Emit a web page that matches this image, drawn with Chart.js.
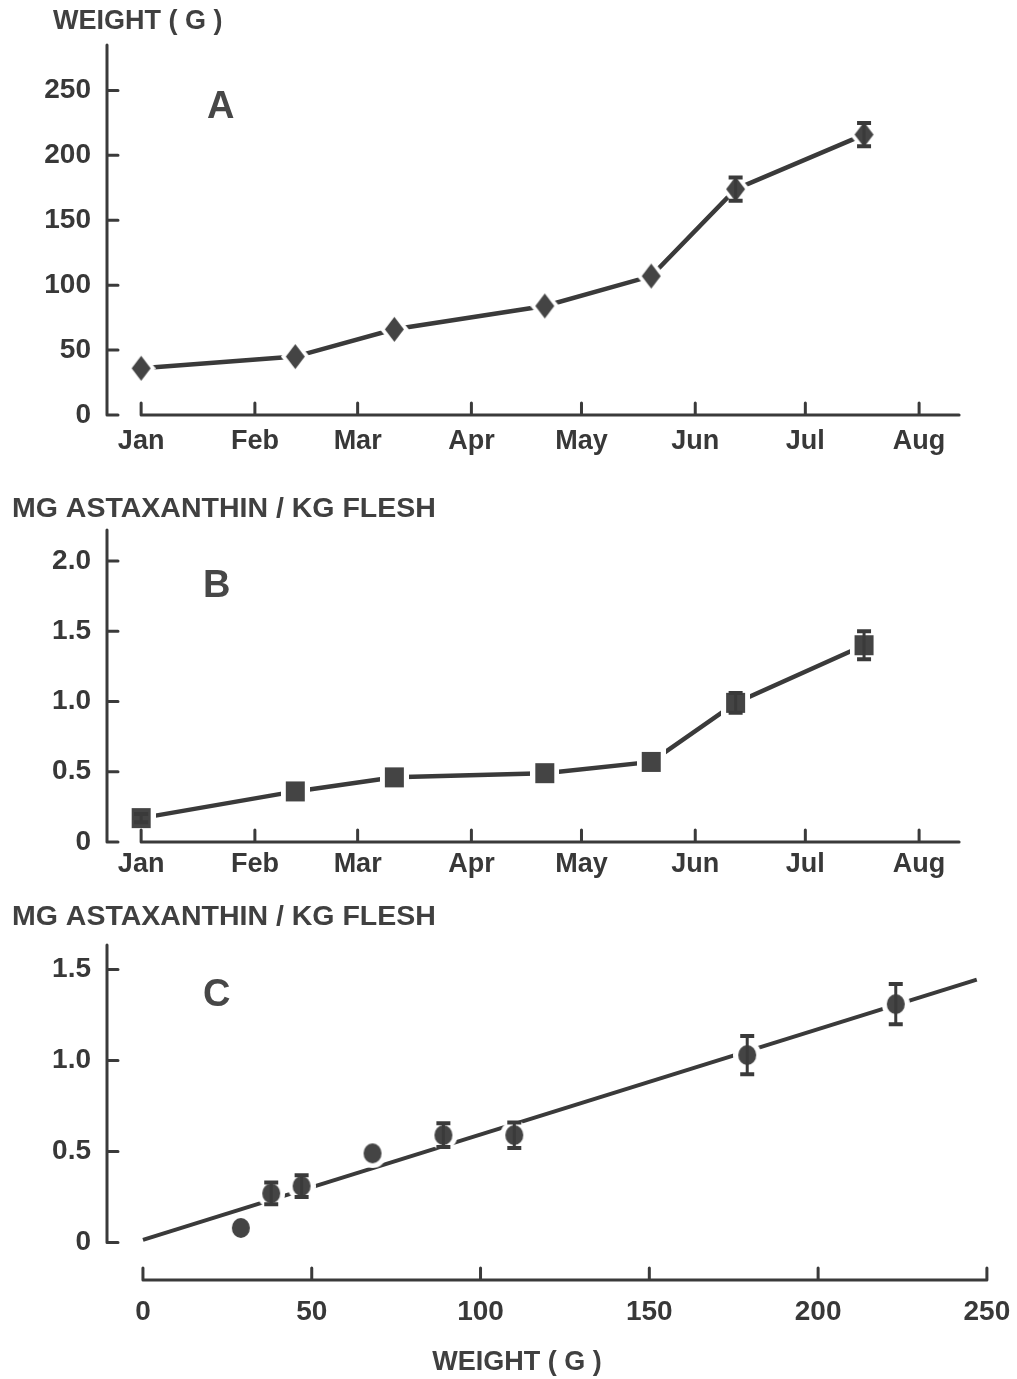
<!DOCTYPE html>
<html>
<head>
<meta charset="utf-8">
<script src="https://cdn.jsdelivr.net/npm/chart.js@4.4.1/dist/chart.umd.min.js"></script>
<style>
  html, body { margin: 0; padding: 0; background: #fff; }
  body { width: 1017px; height: 1379px; position: relative; overflow: hidden; }
  canvas { position: absolute; left: 0; }
</style>
</head>
<body>
<canvas id="chartA" width="1017" height="470" style="top:0px"></canvas>
<canvas id="chartB" width="1017" height="420" style="top:480px"></canvas>
<canvas id="chartC" width="1032" height="479" style="top:900px"></canvas>
<script>
// month ticks, as day of year the month starts
const monthDays = [0, 31, 59, 90, 120, 151, 181, 212];
const monthNames = ['Jan', 'Feb', 'Mar', 'Apr', 'May', 'Jun', 'Jul', 'Aug'];

// sampling dates (day of year), same for A and B
const sampleDays = [0, 42, 69, 110, 139, 162, 197];

// A - weight (g)
const weightG = [36, 45, 66, 84, 107, 174, 216];
const weightErr = [0, 0, 0, 0, 0, 9, 9];
const weightTicks = [0, 50, 100, 150, 200, 250];

// B - mg astaxanthin / kg flesh by date
const astaByDate = [0.17, 0.36, 0.46, 0.49, 0.57, 0.99, 1.40];
const astaByDateErr = [0.03, 0, 0, 0, 0, 0.07, 0.1];
const astaTicksB = [0, 0.5, 1.0, 1.5, 2.0];
const astaLabelsB = ['0', '0.5', '1.0', '1.5', '2.0'];

// C - mg astaxanthin / kg flesh by weight
const fishWeight = [29, 38, 47, 68, 89, 110, 179, 223];
const astaByWeight = [0.08, 0.27, 0.31, 0.49, 0.59, 0.59, 1.03, 1.31];
const astaByWeightErr = [0, 0.06, 0.06, 0, 0.065, 0.07, 0.105, 0.11];
const fitWeight = [0, 247];
const fitAsta = [0.015, 1.445];
const astaTicksC = [0, 0.5, 1.0, 1.5];
const astaLabelsC = ['0', '0.5', '1.0', '1.5'];
const weightTicksC = [0, 50, 100, 150, 200, 250];

const ink = '#3a3a3a';
const FONT = "'Liberation Sans', Arial, sans-serif";
const tickFont = { family: FONT, size: 28, weight: 'bold' };

// marker glyph with a white halo so the line stops short of it
function makeMarker(shape, w, h) {
  const halo = 5;
  const c = document.createElement('canvas');
  c.width = w + halo * 2;
  c.height = h + halo * 2;
  const ctx = c.getContext('2d');
  const cx = c.width / 2, cy = c.height / 2;
  function path(dw, dh) {
    ctx.beginPath();
    if (shape === 'diamond') {
      ctx.moveTo(cx, cy - dh); ctx.lineTo(cx + dw, cy);
      ctx.lineTo(cx, cy + dh); ctx.lineTo(cx - dw, cy);
      ctx.closePath();
    } else if (shape === 'square') {
      ctx.rect(cx - dw, cy - dh, dw * 2, dh * 2);
    } else {
      ctx.ellipse(cx, cy, dw, dh, 0, 0, Math.PI * 2);
    }
  }
  ctx.fillStyle = '#fff';
  path(w / 2 + halo, h / 2 + halo); ctx.fill();
  ctx.fillStyle = '#444';
  path(w / 2, h / 2); ctx.fill();
  return c;
}
const diamond = makeMarker('diamond', 19, 25);
const square = makeMarker('square', 19, 20);
const dot = makeMarker('circle', 18, 20);

const errorBars = {
  id: 'errorBars',
  afterDatasetsDraw(chart) {
    const ctx = chart.ctx, ys = chart.scales.y;
    chart.data.datasets.forEach((ds, di) => {
      if (!ds.errors) return;
      const meta = chart.getDatasetMeta(di);
      meta.data.forEach((pt, i) => {
        const e = ds.errors[i];
        if (!e) return;
        const v = ds.data[i].y;
        const top = ys.getPixelForValue(v + e);
        const bot = ys.getPixelForValue(v - e);
        ctx.save();
        ctx.strokeStyle = ink;
        ctx.lineWidth = 3;
        ctx.beginPath();
        ctx.moveTo(pt.x, top); ctx.lineTo(pt.x, bot);
        ctx.stroke();
        ctx.lineWidth = 4;
        ctx.beginPath();
        ctx.moveTo(pt.x - 7, top); ctx.lineTo(pt.x + 7, top);
        ctx.moveTo(pt.x - 7, bot); ctx.lineTo(pt.x + 7, bot);
        ctx.stroke();
        ctx.restore();
      });
    });
  }
};

// detached axes: y axis with inward ticks, x axis with upward ticks,
// axis heading and panel letter
const frame = {
  id: 'frame',
  afterDatasetsDraw(chart, args, opts) {
    const { ctx, chartArea: a, scales: { x, y } } = chart;
    const y0 = y.getPixelForValue(0);
    ctx.save();
    ctx.strokeStyle = ink;
    ctx.lineWidth = 3;
    ctx.lineCap = 'round';
    ctx.beginPath();
    ctx.moveTo(a.left, a.top); ctx.lineTo(a.left, y0);
    opts.yTicks.forEach(v => {
      const py = y.getPixelForValue(v);
      ctx.moveTo(a.left, py); ctx.lineTo(a.left + 11, py);
    });
    const xs = opts.xTicks.map(v => x.getPixelForValue(v));
    const base = a.bottom;
    ctx.moveTo(xs[0], base); ctx.lineTo(xs[xs.length - 1] + opts.xExtend, base);
    xs.forEach(px => { ctx.moveTo(px, base); ctx.lineTo(px, base - 12); });
    ctx.stroke();
    ctx.fillStyle = '#404040';
    ctx.textBaseline = 'middle';
    ctx.font = 'bold ' + opts.headingSize + 'px ' + FONT;
    ctx.fillText(opts.heading, opts.headingX, opts.headingY);
    ctx.fillStyle = '#474747';
    ctx.font = 'bold 38px ' + FONT;
    ctx.fillText(opts.letter, a.left + opts.letterDx, a.top + opts.letterDy);
    ctx.restore();
  }
};

function baseOptions() {
  return {
    responsive: false,
    animation: false,
    devicePixelRatio: 1,
    plugins: {
      legend: { display: false },
      tooltip: { enabled: false }
    }
  };
}

function monthAxis(height, pad) {
  return {
    type: 'linear', min: -9.3, max: 222.6,
    grid: { display: false }, border: { display: false },
    afterBuildTicks: s => { s.ticks = monthDays.map(v => ({ value: v })); },
    afterFit: s => { s.height = height; },
    ticks: { callback: (v, i) => monthNames[i], font: { family: FONT, size: 27, weight: 'bold' },
             color: '#383838', padding: pad, maxRotation: 0, autoSkip: false }
  };
}

function valueAxis(min, max, ticks, labels, width) {
  return {
    min: min, max: max,
    grid: { display: false }, border: { display: false },
    afterBuildTicks: s => { s.ticks = ticks.map(v => ({ value: v })); },
    afterFit: s => { s.width = width; },
    ticks: { callback: (v, i) => labels[i], font: tickFont, color: '#383838', padding: 8 }
  };
}

// ---- A ----
const optA = baseOptions();
optA.layout = { padding: { left: 12, right: 59, top: 45, bottom: 0 } };
optA.plugins.frame = { yTicks: weightTicks, xTicks: monthDays, xExtend: 40,
  heading: 'WEIGHT ( G )', headingSize: 27, headingX: 53, headingY: 22,
  letter: 'A', letterDx: 100, letterDy: 63 };
optA.scales = {
  x: monthAxis(55, 2),
  y: valueAxis(0, 285, weightTicks, weightTicks.map(String), 95)
};
new Chart(document.getElementById('chartA'), {
  type: 'line',
  data: { datasets: [{
    data: sampleDays.map((d, i) => ({ x: d, y: weightG[i] })),
    errors: weightErr,
    borderColor: ink, borderWidth: 4.5,
    pointStyle: diamond, pointRadius: 10,
    clip: false
  }] },
  options: optA,
  plugins: [frame, errorBars]
});

// ---- B ----
const optB = baseOptions();
optB.layout = { padding: { left: 12, right: 59, top: 50, bottom: 0 } };
optB.plugins.frame = { yTicks: astaTicksB, xTicks: monthDays, xExtend: 40,
  heading: 'MG ASTAXANTHIN / KG FLESH', headingSize: 28.5, headingX: 12, headingY: 29,
  letter: 'B', letterDx: 96, letterDy: 57 };
optB.scales = {
  x: monthAxis(58, -2),
  y: valueAxis(0, 2.22, astaTicksB, astaLabelsB, 95)
};
new Chart(document.getElementById('chartB'), {
  type: 'line',
  data: { datasets: [{
    data: sampleDays.map((d, i) => ({ x: d, y: astaByDate[i] })),
    errors: astaByDateErr,
    borderColor: ink, borderWidth: 4.5,
    pointStyle: square, pointRadius: 10,
    clip: false
  }] },
  options: optB,
  plugins: [frame, errorBars]
});

// ---- C ----
const optC = baseOptions();
optC.layout = { padding: { left: 12, right: 10, top: 45, bottom: 0 } };
optC.plugins.subtitle = { display: true, position: 'bottom', text: 'WEIGHT ( G )', align: 'center', color: '#404040',
  font: { family: FONT, size: 27, weight: 'bold' }, padding: { top: 10, bottom: 0 } };
optC.plugins.frame = { yTicks: astaTicksC, xTicks: weightTicksC, xExtend: 0,
  heading: 'MG ASTAXANTHIN / KG FLESH', headingSize: 28.5, headingX: 12, headingY: 17,
  letter: 'C', letterDx: 96, letterDy: 51 };
optC.scales = {
  x: {
    type: 'linear', min: -10.65, max: 260.1,
    grid: { display: false }, border: { display: false },
    afterBuildTicks: s => { s.ticks = weightTicksC.map(v => ({ value: v })); },
    afterFit: s => { s.height = 56.6; },
    ticks: { callback: v => String(v), font: tickFont, color: '#383838', padding: 7, maxRotation: 0, autoSkip: false }
  },
  y: valueAxis(-0.206, 1.635, astaTicksC, astaLabelsC, 95)
};
new Chart(document.getElementById('chartC'), {
  type: 'scatter',
  data: { datasets: [
    {
      data: fishWeight.map((w, i) => ({ x: w, y: astaByWeight[i] })),
      errors: astaByWeightErr,
      pointStyle: dot, pointRadius: 10,
      clip: false, order: 1
    },
    {
      data: fitWeight.map((w, i) => ({ x: w, y: fitAsta[i] })),
      showLine: true, borderColor: ink, borderWidth: 4,
      pointRadius: 0, clip: false, order: 2
    }
  ] },
  options: optC,
  plugins: [frame, errorBars]
});
</script>
</body>
</html>
